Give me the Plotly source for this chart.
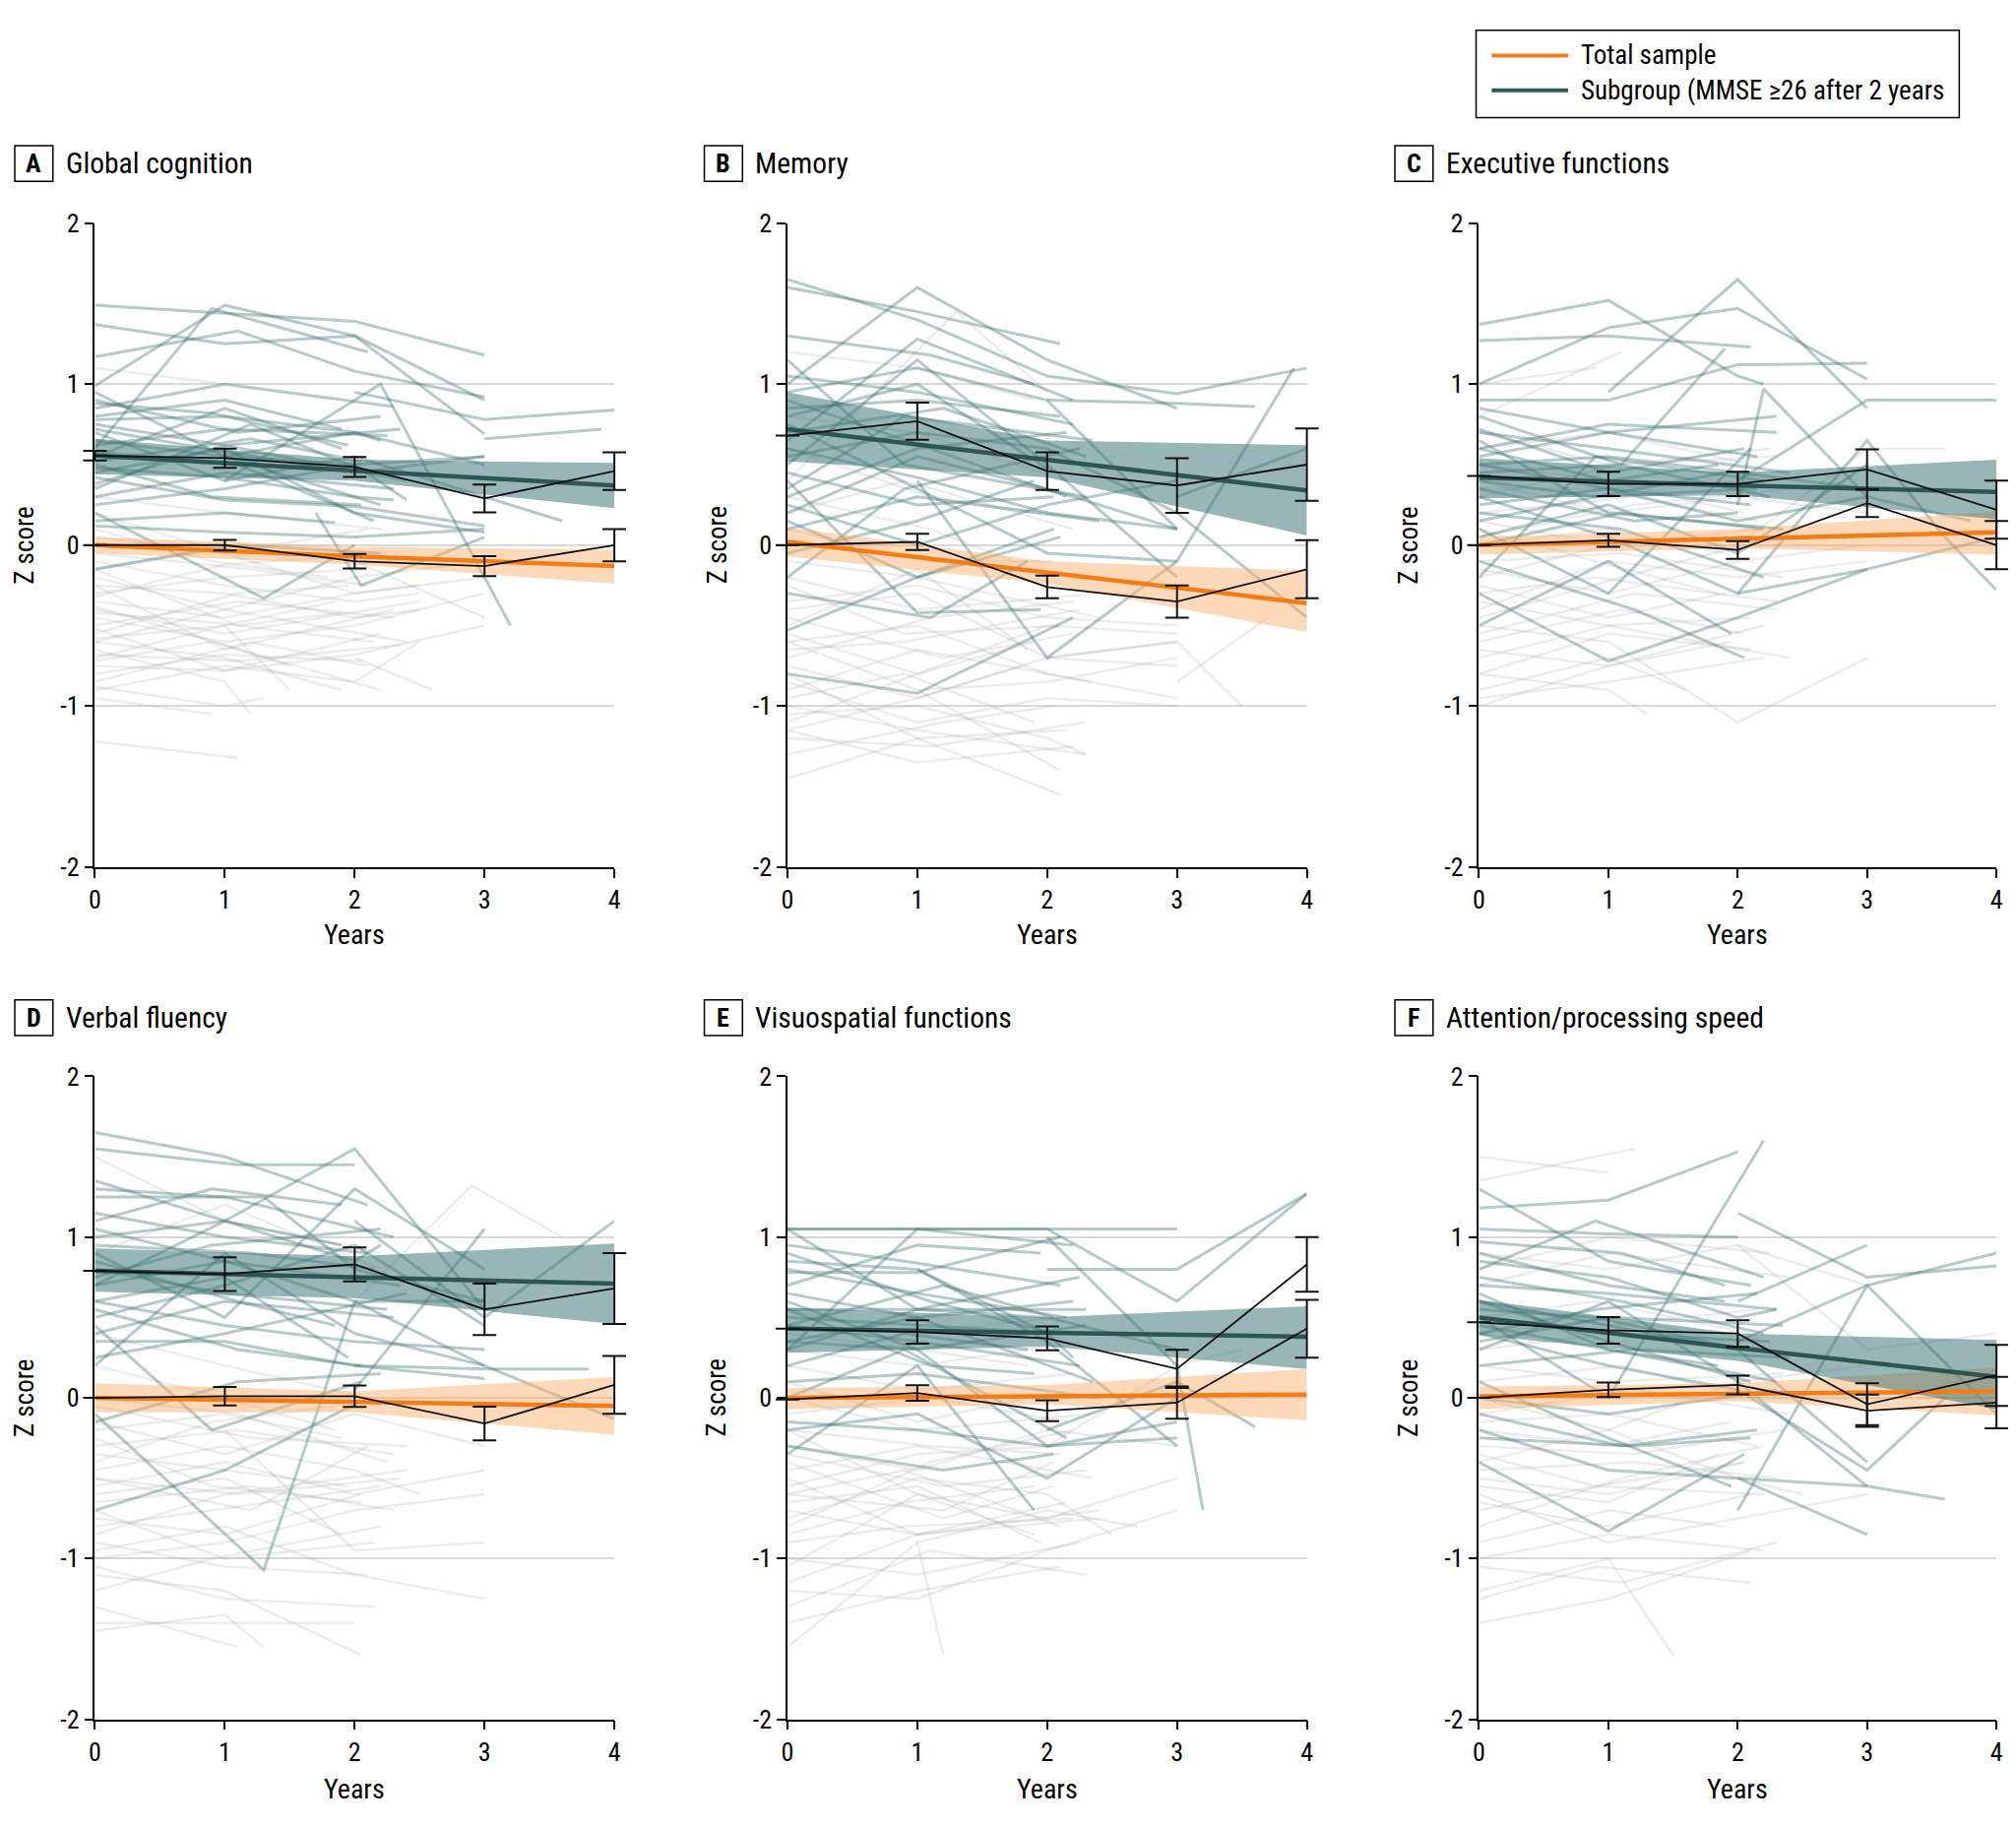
import plotly.graph_objects as go

W, H = 2048, 1855
FONT = "'Liberation Sans Narrow', 'Roboto Condensed', 'DejaVu Sans Condensed', 'Arial Narrow', sans-serif"

years = [0, 1, 2, 3, 4]
fit_x = [0, 2, 4]
panel_letters = ["A", "B", "C", "D", "E", "F"]
panel_titles = ["Global cognition", "Memory", "Executive functions",
                "Verbal fluency", "Visuospatial functions", "Attention/processing speed"]
y_tickvals = [-2, -1, 0, 1, 2]
y_ticktext = ["-2", "-1", "0", "1", "2"]
legend_labels = ["Total sample", "Subgroup (MMSE \u226526 after 2 years"]

# ---------------- observed means (black lines with error bars) ----------------
A_total_mean = [0.00, 0.00, -0.10, -0.13, 0.00]
A_total_err = [0.00, 0.033, 0.045, 0.062, 0.10]
A_sub_mean = [0.556, 0.54, 0.485, 0.29, 0.46]
A_sub_err = [0.03, 0.06, 0.062, 0.086, 0.117]

B_total_mean = [0.00, 0.02, -0.26, -0.35, -0.15]
B_total_err = [0.00, 0.05, 0.07, 0.10, 0.18]
B_sub_mean = [0.68, 0.77, 0.46, 0.37, 0.50]
B_sub_err = [0.00, 0.115, 0.117, 0.17, 0.225]

C_total_mean = [0.00, 0.03, -0.03, 0.26, 0.00]
C_total_err = [0.00, 0.04, 0.055, 0.085, 0.15]
C_sub_mean = [0.43, 0.38, 0.38, 0.47, 0.22]
C_sub_err = [0.00, 0.075, 0.075, 0.125, 0.18]

D_total_mean = [0.00, 0.01, 0.01, -0.16, 0.08]
D_total_err = [0.00, 0.057, 0.067, 0.105, 0.18]
D_sub_mean = [0.79, 0.77, 0.83, 0.55, 0.68]
D_sub_err = [0.00, 0.105, 0.105, 0.16, 0.22]

E_total_mean = [-0.01, 0.03, -0.08, -0.03, 0.43]
E_total_err = [0.00, 0.048, 0.065, 0.10, 0.18]
E_sub_mean = [0.43, 0.41, 0.37, 0.18, 0.83]
E_sub_err = [0.00, 0.073, 0.074, 0.118, 0.17]

F_total_mean = [0.00, 0.05, 0.08, -0.08, -0.03]
F_total_err = [0.00, 0.045, 0.058, 0.10, 0.16]
F_sub_mean = [0.47, 0.42, 0.40, -0.04, 0.14]
F_sub_err = [0.00, 0.083, 0.083, 0.13, 0.19]

# ---------------- model fits with confidence bands (at years 0, 2, 4) ----------------
A_total_fit = [0.00, -0.07, -0.13]
A_total_lo = [-0.05, -0.12, -0.24]
A_total_hi = [0.05, -0.01, -0.03]
A_sub_fit = [0.556, 0.46, 0.37]
A_sub_lo = [0.44, 0.40, 0.23]
A_sub_hi = [0.66, 0.53, 0.51]

B_total_fit = [0.02, -0.17, -0.36]
B_total_lo = [-0.07, -0.24, -0.54]
B_total_hi = [0.11, -0.10, -0.16]
B_sub_fit = [0.72, 0.53, 0.34]
B_sub_lo = [0.52, 0.42, 0.06]
B_sub_hi = [0.95, 0.65, 0.62]

C_total_fit = [0.00, 0.04, 0.08]
C_total_lo = [-0.06, -0.02, -0.06]
C_total_hi = [0.05, 0.10, 0.21]
C_sub_fit = [0.42, 0.37, 0.33]
C_sub_lo = [0.29, 0.31, 0.16]
C_sub_hi = [0.54, 0.45, 0.53]

D_total_fit = [0.00, -0.025, -0.05]
D_total_lo = [-0.09, -0.09, -0.23]
D_total_hi = [0.09, 0.04, 0.13]
D_sub_fit = [0.79, 0.75, 0.71]
D_sub_lo = [0.66, 0.62, 0.46]
D_sub_hi = [0.93, 0.88, 0.96]

E_total_fit = [0.00, 0.01, 0.02]
E_total_lo = [-0.07, -0.04, -0.14]
E_total_hi = [0.06, 0.08, 0.18]
E_sub_fit = [0.43, 0.405, 0.38]
E_sub_lo = [0.28, 0.32, 0.18]
E_sub_hi = [0.56, 0.50, 0.57]

F_total_fit = [0.01, 0.025, 0.04]
F_total_lo = [-0.07, -0.02, -0.11]
F_total_hi = [0.07, 0.09, 0.19]
F_sub_fit = [0.50, 0.31, 0.13]
F_sub_lo = [0.39, 0.23, -0.07]
F_sub_hi = [0.61, 0.40, 0.36]

# ---------------- individual trajectories (year, z score) ----------------
A_sub_lines = [
    [(0, 1.49), (2, 1.39), (3, 1.18)],
    [(0, 1.37), (1, 1.25), (2, 1.30), (3, 0.90)],
    [(0, 1.17), (1.1, 1.33), (2, 1.08), (3, 0.92)],
    [(0, 0.99), (1, 1.49), (2, 1.30), (3, 0.69)],
    [(0, 0.60), (0.9, 1.47), (2.1, 1.20)],
    [(0, 0.85), (1, 1.00), (2.3, 0.86)],
    [(2, 0.95), (3, 0.78), (4, 0.84)],
    [(1, 0.40), (2.2, 1.00), (3.2, -0.50)],
    [(3, 0.66), (3.9, 0.72)],
    [(0, 0.55), (1, 0.85), (1.9, 0.60)],
    [(0, 0.90), (1.1, 0.70), (2.2, 0.80)],
    [(0, 0.75), (1, 0.62), (2.4, 0.40)],
    [(0, 0.50), (0.9, 0.30), (2.05, 0.25)],
    [(0, 0.30), (1, 0.45), (2.3, 0.35)],
    [(0, 0.15), (1, 0.20), (1.85, 0.14)],
    [(0, -0.15), (1.1, 0.00), (2.2, -0.05)],
    [(0, 0.20), (1.3, -0.33), (2, 0.00)],
    [(1.7, 0.20), (2.05, -0.25), (3, 0.05)],
    [(0, 0.65), (1, 0.55), (2, 0.50), (3, 0.55)],
    [(0, 0.45), (1, 0.60), (2, 0.20), (3, 0.08)],
    [(0, 0.78), (1, 0.80), (2, 0.70), (2.2, 0.65)],
    [(0, 0.70), (1, 0.40), (2, 0.55), (3.6, 0.15)],
    [(0, 0.35), (1.2, 0.75), (2.1, 0.45)],
    [(0, 0.95), (1, 0.55), (2, 0.30), (2.2, 0.25)],
    [(0, 0.62), (1, 0.72), (2.25, 0.68)],
    [(0, 0.48), (1, 0.42), (2, 0.30), (2.3, 0.28)],
    [(0, 0.88), (0.9, 0.82), (1.95, 0.62)],
    [(0, 0.25), (1, 0.35), (2, 0.50), (2.4, 0.28)],
    [(0, 0.58), (1.1, 0.50), (2.15, 0.15)],
    [(0, 0.38), (1, 0.62), (2.35, 0.72)],
    [(0, 0.72), (1, 0.58), (2, 0.45), (3, 0.55)],
    [(0, 0.42), (1, 0.28), (2, 0.24), (3, 0.12)],
    [(0, 0.12), (1, 0.08), (2, 0.05), (3, 0.10)],
    [(0, 0.52), (1.2, 0.66), (2.05, 0.52)],
    [(1, 0.55), (2, 0.70), (3, 0.50)],
    [(0, 0.80), (1, 0.90), (1.9, 0.72)],
]
A_rest_lines = [
    [(0, -1.22), (1.1, -1.32)],
    [(0, -0.95), (0.9, -1.05)],
    [(0, -0.75), (1, -0.78), (2.2, -0.55)],
    [(0, -0.60), (1, -0.70), (1.9, -0.90)],
    [(0, -0.50), (1.1, -0.35), (2.3, -0.45)],
    [(0, -0.30), (1, -0.20), (2.05, -0.15)],
    [(0, -0.10), (1, -0.25), (2, -0.35), (2.5, -0.30)],
    [(0, -0.85), (1.2, -0.60), (2.1, -0.75)],
    [(0, -0.40), (1, -0.55), (2.5, -0.35)],
    [(0, 0.10), (0.9, -0.10), (1.8, -0.20)],
    [(0, -0.20), (1, -0.40), (2.4, -0.60)],
    [(0, -0.65), (1, -0.85), (1.2, -1.05)],
    [(0, -0.45), (1, -0.60), (2, -0.50), (3, -0.30)],
    [(0, -0.90), (1, -0.75), (2, -0.85), (2.5, -0.60)],
    [(0, 0.30), (1, 0.20), (2.2, 0.10)],
    [(0, -0.15), (1, 0.00), (2, -0.10), (3, -0.45)],
    [(0, -0.55), (1.1, -0.30), (1.95, -0.25)],
    [(0, -0.70), (1, -0.50), (1.5, -0.90)],
    [(0, -0.35), (1, -0.45), (2, -0.30), (3, -0.20)],
    [(2, -0.70), (2.6, -0.90)],
    [(0, 1.10), (1, 1.00)],
    [(0, -0.25), (1, -0.65), (2.3, -0.40)],
    [(0, -0.05), (1.2, -0.15), (2.1, -0.25)],
    [(0, -0.25), (1, -0.30), (2, -0.45), (2.5, -0.40)],
    [(0, -0.42), (0.9, -0.48), (2.15, -0.60)],
    [(0, -0.58), (1, -0.50), (1.85, -0.35)],
    [(0, -0.68), (1.1, -0.72), (2.35, -0.62)],
    [(0, -0.80), (1, -0.68), (2.05, -0.72)],
    [(0, -0.88), (1, -1.00), (1.3, -0.95)],
    [(0, -0.32), (1, -0.12), (2.25, -0.05)],
    [(0, -0.15), (1.1, -0.50), (1.9, -0.42)],
    [(0, 0.05), (1, -0.05), (2, -0.30), (2.5, -0.25)],
    [(0, -0.52), (1, -0.78), (2, -0.68), (3, -0.50)],
    [(0, -0.72), (0.9, -0.60), (2.2, -0.90)],
    [(0, -0.38), (1, -0.62), (1.5, -0.75)],
    [(0, 0.20), (1, -0.05), (2.1, 0.10)],
    [(0, -0.60), (1, -0.40), (2, -0.20), (3, -0.10)],
]

B_sub_lines = [
    [(0, 1.65), (1, 1.40), (2, 1.05), (3, 0.94), (4, 1.10)],
    [(0, 1.60), (1, 1.45), (2.1, 1.25)],
    [(0, 1.30), (1.1, 1.18), (1.9, 1.00)],
    [(0, 1.00), (1, 1.60), (2, 1.15), (3, 0.85)],
    [(0, 0.65), (1, 1.28), (2.2, 0.90)],
    [(0, 0.95), (1, 1.10), (2, 0.90), (3, 0.10)],
    [(0, 1.15), (0.9, 0.50), (2.3, 0.30)],
    [(0, 0.50), (1, 1.15), (2, 0.50), (3, -0.20)],
    [(0, 0.30), (1, 0.60), (2.15, 0.70)],
    [(0, -0.53), (1, -0.20), (2.05, 0.10)],
    [(0, -0.80), (1, -0.92), (2.2, -0.45)],
    [(0, -0.30), (1.1, -0.45), (1.85, -0.10)],
    [(1, 0.40), (2, -0.70), (3, -0.10), (3.9, 1.10)],
    [(2, 0.90), (3, 0.88), (3.6, 0.86)],
    [(0, 0.25), (1, 0.00), (2, 0.25), (3, 0.40)],
    [(0, 0.10), (1, 0.30), (2.4, 0.15)],
    [(0, 0.55), (1, 0.70), (2, 0.60), (3, 0.20), (4, -0.45)],
    [(3, 0.30), (4, 0.60)],
    [(0, 0.85), (1, 0.90), (2.1, 0.80)],
    [(0, -0.20), (0.9, 0.35), (2.25, 0.60)],
    [(0, 0.40), (1, -0.42), (1.95, -0.40)],
    [(0, 0.75), (1, 0.35), (2, -0.05), (3, -0.10)],
    [(0, 0.70), (1.2, 0.85), (2.3, 0.55)],
    [(0, 0.45), (1, 0.25), (2.05, 0.30)],
    [(0, 0.20), (1, 0.55), (2, 0.35), (3, 0.10)],
    [(0, 0.90), (1.1, 0.60), (2.15, 0.30)],
    [(0, -0.05), (1, 0.15), (1.9, 0.40)],
    [(0, 0.60), (1, 0.42), (2, 0.20), (3, 0.10)],
    [(0, 1.05), (1, 0.95), (2.2, 0.75)],
    [(0, 0.35), (0.9, 0.80), (2.35, 0.65)],
    [(0, 0.15), (1, -0.20), (2.1, 0.05)],
    [(0, 0.80), (1, 1.00), (2.05, 0.45)],
]
B_rest_lines = [
    [(0, -1.45), (1, -1.20), (2.1, -1.55)],
    [(0, -1.20), (1.1, -1.25), (2.3, -1.10)],
    [(0, -1.05), (1, -1.00), (2, -1.20), (2.3, -1.30)],
    [(0, -0.95), (0.9, -0.80), (1.9, -1.10)],
    [(0, -0.75), (1, -0.95), (2, -0.70), (3, -0.75)],
    [(0, -0.60), (1, -0.50), (2, -0.80), (3, -0.95)],
    [(0, -0.45), (1.2, -0.70), (2.2, -0.55)],
    [(0, -0.35), (1, -0.25), (2, -0.45), (3, -0.50)],
    [(0, -0.20), (1, -0.40), (2.4, -0.30)],
    [(0, 0.30), (1.1, 0.10), (2.05, -0.20)],
    [(0, 0.40), (1.3, 1.45), (2, 0.95)],
    [(0, -1.10), (1, -0.80), (2, -0.50), (3, -0.55)],
    [(1, -0.90), (2.1, -1.40)],
    [(0, -0.85), (1, -1.10), (2, -0.95), (3, -1.00)],
    [(2, -0.70), (3, -0.60), (3.5, -1.00)],
    [(0, -0.65), (0.9, -0.60), (2.25, -0.40)],
    [(0, -0.50), (1, -0.15), (1.85, -0.65)],
    [(0, 0.80), (1, 0.70), (2.15, 0.40)],
    [(0, 0.60), (1.1, 0.30), (1.95, 0.20)],
    [(3, -0.85), (3.7, -0.45)],
    [(0, -1.15), (1, -1.35), (2.2, -1.25)],
    [(0, -0.90), (1, -0.65), (2.35, -0.85)],
    [(0, -1.30), (1.2, -1.10), (2.05, -1.00)],
    [(0, -0.55), (1, -0.80), (1.9, -0.60)],
    [(0, -0.25), (0.9, -0.55), (2.1, -0.50)],
    [(0, -1.00), (1, -1.15), (2.3, -1.30)],
    [(0, -0.70), (1.1, -0.45), (2.2, -0.35)],
    [(0, -0.40), (1, -0.30), (2, -0.70), (3, -0.60)],
    [(0, -1.15), (1, -0.95), (1.8, -0.75)],
    [(0, -0.10), (1, -0.20), (2.4, -0.45)],
    [(0, 0.10), (1.1, -0.10), (2.05, -0.10)],
    [(0, -0.80), (1, -1.20), (2.15, -1.15)],
    [(0, -0.60), (1, -0.90), (2, -0.85), (3, -0.70)],
    [(0, 0.20), (0.9, 0.40), (2.2, 0.10)],
    [(0, 1.20), (1, 1.10), (1.9, 0.90)],
]

C_sub_lines = [
    [(0, 1.37), (1, 1.52), (2, 1.05), (2.2, 1.00)],
    [(0, 1.27), (1, 1.30), (2.1, 1.23)],
    [(0, 1.00), (1, 1.35), (2, 1.47), (3, 1.03)],
    [(0, 0.90), (1, 0.90), (2, 1.12), (3, 1.13)],
    [(1, 0.95), (2, 1.65), (3, 0.85)],
    [(0, 0.80), (1.1, 0.50), (1.9, 1.22)],
    [(2, 0.25), (2.2, 0.97), (3, 0.30), (3.8, 0.15)],
    [(2, 0.40), (3, 0.90), (4, 0.90)],
    [(0, 0.60), (1, 0.75), (2.3, 0.70)],
    [(0, 0.40), (0.9, 0.30), (2.15, 0.35)],
    [(0, 0.72), (1, 0.45), (2.05, 0.60)],
    [(0, 0.20), (1.1, 0.10), (2.2, -0.20)],
    [(0, -0.50), (1, -0.10), (1.95, -0.55)],
    [(0, -0.30), (1, -0.72), (2, -0.45), (3, -0.15)],
    [(0, 0.10), (1, -0.30), (2.1, 0.60)],
    [(2, -0.30), (3, 0.65), (3.6, 0.05), (4, -0.28)],
    [(0, 0.05), (1, 0.25), (2, -0.05), (3, 0.50)],
    [(0, 0.50), (1, 0.55), (2, 0.45), (3, 0.35)],
    [(0, -0.10), (1.2, -0.40), (2.05, -0.70)],
    [(0, 0.30), (1, 0.05), (2, -0.30), (3, -0.15), (4, 0.05)],
    [(0, 0.65), (1, 0.20), (2.35, 0.10)],
    [(0, -0.20), (0.9, 0.55), (2.2, 0.40)],
    [(0, 0.60), (1, 0.40), (1.85, 0.50)],
    [(0, 0.45), (1.1, 0.50), (2.25, 0.30)],
    [(0, 0.25), (1, 0.35), (2.1, 0.25)],
    [(0, 0.70), (1, 0.60), (2.4, 0.45)],
    [(0, 0.35), (1.2, 0.15), (2.0, 0.20)],
    [(0, 0.55), (1, 0.70), (2.15, 0.55)],
    [(0, 0.15), (0.9, 0.30), (1.9, 0.45)],
    [(0, 0.85), (1, 0.70), (2.3, 0.80)],
    [(0, 0.00), (1.1, 0.20), (2.2, 0.10)],
    [(0, 0.50), (1, 0.35), (2, 0.15), (3, 0.30)],
]
C_rest_lines = [
    [(0, -1.00), (1, -0.75), (2.2, -0.50)],
    [(0, -0.80), (1, -0.90), (1.3, -1.05)],
    [(0, -0.60), (1.1, -0.40), (2.05, -0.55)],
    [(0, -0.50), (1, -0.60), (2, -1.10), (3, -0.70)],
    [(0, -0.30), (0.9, -0.20), (2.3, -0.35)],
    [(0, -0.15), (1, -0.30), (2, -0.10), (3, 0.00)],
    [(0, 0.00), (1, 0.10), (1.9, -0.05)],
    [(0, 0.20), (1.2, 0.30), (2.15, 0.15)],
    [(0, 0.40), (1, 0.20), (2, 0.30), (3, 0.20)],
    [(0, 0.60), (1, 0.70), (2.1, 0.50)],
    [(0, 0.80), (1.1, 1.20)],
    [(0, 1.00), (0.9, 1.10)],
    [(0, -0.70), (1, -0.50), (2.4, -0.70)],
    [(0, -0.40), (1, -0.10), (2, -0.20), (3, -0.10)],
    [(0, 0.30), (1.1, 0.50), (2.25, 0.60)],
    [(2, 0.00), (3, 0.60), (3.6, 0.60)],
    [(0, -0.90), (1, -0.70), (1.6, -0.90)],
    [(0, -0.20), (1, 0.00), (2.2, 0.10)],
    [(0, 0.10), (0.9, -0.10), (1.85, -0.30)],
    [(0, 0.50), (1, 0.40), (2.05, 0.20)],
    [(0, -0.55), (1.2, -0.30), (2.3, -0.40)],
    [(0, -0.35), (1, -0.50), (2.1, -0.45)],
    [(0, -0.65), (1, -0.75), (1.95, -0.60)],
    [(0, -0.10), (1.1, -0.05), (2.35, -0.20)],
    [(0, 0.15), (1, 0.00), (2.15, 0.05)],
    [(0, 0.35), (0.9, 0.35), (2.2, 0.40)],
    [(0, -0.25), (1, -0.45), (1.9, -0.30)],
    [(0, -0.45), (1.1, -0.20), (2.05, 0.00)],
    [(0, 0.70), (1, 0.50), (2.3, 0.55)],
    [(0, -0.80), (1, -0.55), (2.1, -0.65)],
    [(0, 0.05), (1.2, 0.25), (2.4, 0.35)],
    [(0, -0.95), (1, -0.85), (2.2, -0.70)],
]

D_sub_lines = [
    [(0, 1.65), (1, 1.50), (2.1, 1.20)],
    [(0, 1.55), (1.1, 1.45), (2, 1.45)],
    [(0, 1.30), (1, 1.25), (2.3, 1.00)],
    [(0, 1.10), (0.9, 1.30), (1.9, 1.20)],
    [(0, 1.00), (1, 1.10), (2, 1.55), (3, 0.55)],
    [(0, 0.90), (1, 0.50), (2, 1.30), (3, 0.80)],
    [(0, 1.25), (1.3, 1.25), (2, 0.80), (3, 0.60)],
    [(0, 0.50), (1, 0.70), (2, 0.95), (3, 0.45)],
    [(0, 0.35), (1, 0.35), (2, 0.20), (3, 0.12)],
    [(0, -0.70), (1, -0.45), (2.1, 0.00)],
    [(0, -0.10), (1.3, -1.07), (2, 0.60)],
    [(0, 0.20), (1, 0.90), (2, 0.40), (3, 0.20)],
    [(0, -0.15), (1.1, 0.10), (2.2, 0.15)],
    [(0, 0.60), (1, 0.75), (1.95, 0.25)],
    [(2, 0.05), (3, 1.05)],
    [(2, 0.20), (3, 0.18), (3.8, 0.18)],
    [(2, 1.10), (3, 0.50), (4, 1.10)],
    [(2, 0.60), (3, 0.20), (4, -0.13)],
    [(0, 0.80), (1, 0.65), (2.25, 0.55)],
    [(0, 0.45), (0.9, -0.20), (2.05, 0.10)],
    [(0, 1.05), (1, 0.85), (2, 0.60), (3, 0.60)],
    [(0, 0.70), (1, 1.10), (2, 0.85), (2.2, 0.95)],
    [(0, 0.95), (1.2, 0.90), (2.15, 0.80)],
    [(0, 0.70), (1, 0.85), (2.35, 0.70)],
    [(0, 0.85), (1.1, 0.60), (1.85, 0.45)],
    [(0, 1.15), (1, 1.00), (2.1, 0.90)],
    [(0, 0.60), (1, 0.45), (2, 0.35), (3, 0.30)],
    [(0, 0.75), (0.9, 0.95), (2.2, 1.05)],
    [(0, 0.40), (1, 0.60), (2.3, 0.50)],
    [(0, 0.55), (1.1, 0.30), (2.05, 0.20)],
    [(0, 1.35), (1, 1.10), (1.9, 0.95)],
    [(0, 0.25), (1, 0.40), (2.4, 0.65)],
]
D_rest_lines = [
    [(0, -1.40), (1, -1.40), (2, -1.40)],
    [(0, -1.30), (1.1, -1.55)],
    [(0, -1.10), (1, -1.20), (2.05, -1.60)],
    [(0, -0.95), (1, -0.80), (2, -1.10), (3, -1.25)],
    [(0, -0.80), (0.9, -0.70), (2.2, -0.55)],
    [(0, -0.60), (1, -0.50), (1.9, -0.85)],
    [(0, -0.45), (1, -0.30), (2, -0.45), (2.5, -0.60)],
    [(0, -0.30), (1.1, -0.20), (2.3, -0.35)],
    [(0, -0.15), (1, -0.35), (2, -0.10), (3, -0.30)],
    [(0, -0.70), (1, -1.00), (2.15, -0.90)],
    [(0, -0.50), (1.2, -0.70), (2.1, -0.30)],
    [(0, 0.20), (1, 0.00), (1.85, -0.20)],
    [(2, 0.60), (2.9, 1.32), (3.6, 1.00)],
    [(0, 1.50), (1, 1.10), (2.2, 0.90)],
    [(0, -1.00), (1, -0.90), (2, -0.70), (3, -0.60)],
    [(0, -0.25), (0.9, -0.55), (2.05, -0.65)],
    [(0, -0.85), (1, -0.60), (2.4, -0.45)],
    [(1, -0.20), (2, -0.95), (3, -0.90)],
    [(0, 0.00), (1.1, -0.10), (2.25, -0.40)],
    [(0, -0.55), (1, -0.40), (2, -0.60), (3, -0.45)],
    [(0, -0.35), (1, -0.45), (1.95, -0.55)],
    [(0, -0.65), (1.2, -0.55), (2.3, -0.70)],
    [(0, -0.90), (1, -1.05), (2.1, -1.10)],
    [(0, -1.20), (0.9, -1.00), (2.2, -0.80)],
    [(0, -0.20), (1, -0.10), (1.9, -0.25)],
    [(0, -0.50), (1.1, -0.60), (2.35, -0.50)],
    [(0, -0.75), (1, -0.85), (2.05, -0.60)],
    [(0, -1.05), (1, -1.25), (2.15, -1.30)],
    [(0, -0.05), (1.2, -0.25), (2.4, -0.30)],
    [(0, 0.40), (1, 0.20), (2.1, 0.00)],
    [(0, -0.40), (0.9, -0.15), (1.85, -0.05)],
    [(0, 0.90), (1, 1.20), (2.2, 0.80)],
    [(0, -1.45), (1, -1.35), (1.3, -1.55)],
]

E_sub_lines = [
    [(0, 1.05), (1, 1.05), (2, 1.05)],
    [(0, 1.05), (1.5, 1.05), (3, 1.05)],
    [(2, 0.80), (3, 0.80), (4, 1.27)],
    [(0, 0.78), (1, 0.78), (2.1, 1.00)],
    [(0, 1.05), (1, 0.55), (2, 0.50), (3, 0.30)],
    [(0, 0.55), (1.1, 0.55), (2.3, 0.55)],
    [(1, 0.80), (2, 0.35), (3, -0.30)],
    [(2, 1.05), (3, 0.60), (4, 1.27)],
    [(2, 1.00), (3, 0.20), (3.2, -0.70)],
    [(0, 0.30), (1, 1.05), (2.2, 0.95)],
    [(0, -0.30), (1.2, -0.45), (2.05, -0.35)],
    [(0, -0.20), (1, -0.10), (2, -0.50), (3, 0.00)],
    [(0, -0.35), (1, 0.20), (1.9, -0.70)],
    [(0, 0.00), (0.9, 0.30), (2.15, -0.25)],
    [(0, 0.45), (1, 0.35), (2.25, 0.20)],
    [(0, 0.60), (1, 0.30), (2, -0.30), (3, -0.15)],
    [(2, -0.20), (3, 0.10), (3.6, -0.18)],
    [(0, 0.90), (1.1, 0.60), (2.05, 0.40)],
    [(0, 0.35), (1, 0.50), (2.35, 0.10)],
    [(0, 0.70), (1, 0.95), (1.95, 0.90)],
    [(0, -0.15), (1, -0.20), (2, -0.30), (3, -0.25)],
    [(0, 0.85), (1, 0.80), (2, 0.40), (2.2, 0.25)],
    [(0, 0.50), (1.1, 0.45), (2.1, 0.40)],
    [(0, 0.35), (1, 0.30), (2.3, 0.45)],
    [(0, 0.20), (0.9, 0.40), (1.85, 0.30)],
    [(0, 0.65), (1, 0.50), (2.2, 0.60)],
    [(0, 0.45), (1.2, 0.70), (2.05, 0.50)],
    [(0, 0.10), (1, 0.15), (2.4, 0.00)],
    [(0, 0.80), (1, 0.65), (2.15, 0.50)],
    [(0, 0.55), (1.1, 0.20), (1.9, 0.15)],
    [(0, 0.30), (1, 0.55), (2.25, 0.75)],
    [(0, 0.95), (0.9, 0.85), (2.1, 0.70)],
]
E_rest_lines = [
    [(0, -1.55), (1, -0.90), (1.2, -1.60)],
    [(0, -1.40), (1, -1.20), (2.1, -1.05)],
    [(0, -1.30), (1.1, -0.95), (2.3, -1.10)],
    [(0, -1.20), (1, -1.25), (2, -0.95), (3, -0.70)],
    [(0, -1.05), (1, -0.60), (1.9, -0.85)],
    [(0, -0.90), (0.9, -0.80), (2.2, -0.75)],
    [(0, -0.75), (1, -0.50), (2, -0.60), (2.5, -0.85)],
    [(0, -0.60), (1.2, -0.70), (2.05, -0.40)],
    [(0, -0.45), (1, -0.30), (2.35, -0.50)],
    [(0, -0.30), (1, -0.45), (2, -0.20), (3, -0.30)],
    [(0, -0.10), (1.1, 0.00), (2.15, -0.15)],
    [(0, 0.10), (1, -0.15), (1.85, 0.00)],
    [(0, 0.30), (1, 0.20), (2.25, 0.35)],
    [(0, 0.55), (0.9, 0.40), (2.1, 0.50)],
    [(0, -0.50), (1, -0.85), (2.4, -0.70)],
    [(0, -0.20), (1, -0.60), (2, -0.75), (3, -0.50)],
    [(2, -0.30), (3, 0.20), (3.5, 0.30)],
    [(0, -0.80), (1.1, -0.40), (2.2, -0.20)],
    [(1, -0.90), (2, -0.70), (2.7, -0.80)],
    [(0, -0.65), (1, -0.55), (1.95, -0.90)],
    [(0, -0.35), (1.2, -0.55), (2.3, -0.45)],
    [(0, -0.55), (1, -0.35), (2.05, -0.30)],
    [(0, -0.70), (1, -0.85), (2.15, -0.65)],
    [(0, -0.85), (0.9, -0.65), (1.9, -0.55)],
    [(0, -1.00), (1, -1.10), (2.25, -0.90)],
    [(0, -0.20), (1.1, -0.30), (2.1, -0.35)],
    [(0, 0.00), (1, -0.20), (2.35, -0.10)],
    [(0, 0.20), (1, 0.05), (2.2, 0.15)],
    [(0, -0.40), (1.2, -0.75), (2.05, -0.55)],
    [(0, -1.15), (1, -0.85), (2.4, -0.75)],
    [(0, -0.60), (0.9, -0.45), (2.1, -0.80)],
    [(0, 0.40), (1, 0.30), (1.85, 0.20)],
]

F_sub_lines = [
    [(0, 1.18), (1, 1.23), (2, 1.53)],
    [(0, 1.30), (1, 0.85), (2.1, 0.70)],
    [(0, 0.50), (1, 0.00), (2.2, 1.60)],
    [(0, 1.05), (1, 1.02), (2, 1.00)],
    [(0, 0.97), (1.1, 0.90), (1.9, 0.70)],
    [(2, 1.15), (3, 0.75), (4, 0.82)],
    [(2, 0.60), (3, 0.95)],
    [(2, 0.35), (3, 0.70), (4, -0.10)],
    [(0, 0.80), (0.9, 1.10), (2.2, 0.75)],
    [(0, 0.70), (1, 0.65), (2.3, 0.55)],
    [(0, 0.60), (1, 0.45), (2, 0.30), (3, -0.40)],
    [(0, 0.30), (1, 0.60), (2, 0.10), (3, -0.55)],
    [(0, -0.40), (1, -0.83), (2.05, -0.35)],
    [(0, -0.10), (1.1, -0.30), (2.15, -0.20)],
    [(0, 0.10), (1, -0.25), (1.95, -0.55)],
    [(2, -0.70), (3, 0.70), (4, 0.90)],
    [(2, -0.50), (3, -0.55), (3.6, -0.63)],
    [(0, -0.20), (1, -0.45), (2, -0.50), (3, -0.85)],
    [(0, 0.40), (1, 0.20), (2, 0.05), (3, -0.45), (3.6, 0.00)],
    [(0, 0.85), (1, 0.75), (2, 0.50), (2.3, 0.55)],
    [(0, 0.65), (1, 0.30), (2, 0.15), (2.3, 0.10)],
    [(0, -0.25), (1.2, -0.30), (2.1, -0.25)],
    [(0, 0.50), (1, 0.40), (2.25, 0.35)],
    [(0, 0.55), (0.9, 0.50), (2.05, 0.30)],
    [(0, 0.45), (1, 0.30), (1.85, 0.20)],
    [(0, 0.75), (1.1, 0.60), (2.2, 0.40)],
    [(0, 0.35), (1, 0.50), (2.35, 0.45)],
    [(0, 0.60), (1, 0.35), (2.1, 0.10)],
    [(0, 0.20), (1.2, 0.30), (2.4, 0.25)],
    [(0, 0.90), (1, 0.70), (1.9, 0.60)],
    [(0, 0.40), (0.9, 0.55), (2.15, 0.65)],
    [(0, 0.00), (1, -0.10), (2.3, 0.05)],
]
F_rest_lines = [
    [(0, 1.50), (1, 1.40)],
    [(0, 1.35), (1.2, 1.55)],
    [(0, -1.40), (1, -1.25), (2.1, -0.95)],
    [(0, -1.20), (1, -1.00), (1.5, -1.60)],
    [(0, -1.05), (1.1, -1.15), (2.3, -0.90)],
    [(0, -0.90), (1, -0.70), (1.9, -0.80)],
    [(0, -0.70), (0.9, -0.55), (2.2, -0.60)],
    [(0, -0.50), (1, -0.60), (2.05, -0.40)],
    [(0, -0.30), (1.2, -0.35), (2.35, -0.20)],
    [(0, -0.15), (1, -0.10), (2.15, -0.30)],
    [(0, 0.10), (1.1, 0.20), (1.85, 0.05)],
    [(0, 0.30), (1, 0.40), (2.25, 0.30)],
    [(0, 0.50), (0.9, 0.60), (2.1, 0.40)],
    [(0, 0.70), (1, 0.90), (2.4, 0.75)],
    [(0, 0.90), (1, 0.80), (2, 0.95), (3, 0.70)],
    [(0, -0.60), (1, -0.90), (2, -0.75), (3, -0.60)],
    [(2, 0.95), (3, 0.30), (4, 0.40)],
    [(0, -0.40), (1, -0.20), (2, -0.50), (2.5, -0.60)],
    [(0, 0.00), (1, -0.20), (2, 0.10), (3, 0.20)],
    [(0, -0.80), (1.1, -0.50), (2.2, -0.30)],
    [(0, -0.20), (1, -0.30), (1.95, -0.15)],
    [(0, -0.45), (1.2, -0.40), (2.3, -0.50)],
    [(0, -0.65), (1, -0.80), (2.1, -0.60)],
    [(0, -0.35), (0.9, -0.55), (2.05, -0.40)],
    [(0, 0.20), (1, 0.10), (2.35, 0.15)],
    [(0, 0.40), (1.1, 0.50), (1.9, 0.35)],
    [(0, -1.00), (1, -0.85), (2.2, -0.95)],
    [(0, 0.60), (1, 0.45), (2.15, 0.55)],
    [(0, -0.10), (1.2, 0.05), (2.4, -0.10)],
    [(0, -0.55), (1, -0.65), (1.85, -0.35)],
    [(0, -1.25), (0.9, -1.05), (2.1, -1.15)],
    [(0, 0.80), (1, 1.00), (2.25, 0.90)],
]

panels = [
    (A_sub_lines, A_rest_lines, A_total_mean, A_total_err, A_sub_mean, A_sub_err,
     A_total_fit, A_total_lo, A_total_hi, A_sub_fit, A_sub_lo, A_sub_hi),
    (B_sub_lines, B_rest_lines, B_total_mean, B_total_err, B_sub_mean, B_sub_err,
     B_total_fit, B_total_lo, B_total_hi, B_sub_fit, B_sub_lo, B_sub_hi),
    (C_sub_lines, C_rest_lines, C_total_mean, C_total_err, C_sub_mean, C_sub_err,
     C_total_fit, C_total_lo, C_total_hi, C_sub_fit, C_sub_lo, C_sub_hi),
    (D_sub_lines, D_rest_lines, D_total_mean, D_total_err, D_sub_mean, D_sub_err,
     D_total_fit, D_total_lo, D_total_hi, D_sub_fit, D_sub_lo, D_sub_hi),
    (E_sub_lines, E_rest_lines, E_total_mean, E_total_err, E_sub_mean, E_sub_err,
     E_total_fit, E_total_lo, E_total_hi, E_sub_fit, E_sub_lo, E_sub_hi),
    (F_sub_lines, F_rest_lines, F_total_mean, F_total_err, F_sub_mean, F_sub_err,
     F_total_fit, F_total_lo, F_total_hi, F_sub_fit, F_sub_lo, F_sub_hi),
]

# ---------------- styling ----------------
ORANGE = "#f47c14"
ORANGE_BAND = "rgba(253,170,100,0.45)"
TEAL = "#2c5553"
TEAL_BAND = "rgba(55,115,113,0.52)"
TEAL_SPAG = "rgba(72,122,120,0.40)"
GRAY_SPAG = "rgba(170,170,170,0.22)"
BLACK = "#111111"

def px(x):
    return x / W

def py(y):
    return 1 - y / H

# plot area pixel boxes: (left, right) for columns, (top, bottom) for rows
col_px = [(83, 614), (791, 1322), (1498, 2027)]
row_px = [(207, 872), (1088, 1752)]
label_box_x = [1, 706, 1412]
label_box_y = [(127, 164), (1009, 1046)]
years_label_y = [942, 1824]
EXT = 20  # extra pixels for the unclipped error-bar overlay

fig = go.Figure()
layout_axes = {}
annotations = []
shapes = []

for i, (sub_lines, rest_lines, t_mean, t_err, s_mean, s_err,
        t_fit, t_lo, t_hi, s_fit, s_lo, s_hi) in enumerate(panels):
    r, c = divmod(i, 3)
    n = "" if i == 0 else str(i + 1)
    xa, ya = "x" + n, "y" + n
    on = str(i + 7)
    oxa, oya = "x" + on, "y" + on

    for line in rest_lines:
        fig.add_trace(go.Scatter(x=[p[0] for p in line], y=[p[1] for p in line],
                                 mode="lines", line=dict(color=GRAY_SPAG, width=2.5),
                                 hoverinfo="skip", showlegend=False, xaxis=xa, yaxis=ya))
    for line in sub_lines:
        fig.add_trace(go.Scatter(x=[p[0] for p in line], y=[p[1] for p in line],
                                 mode="lines", line=dict(color=TEAL_SPAG, width=3),
                                 hoverinfo="skip", showlegend=False, xaxis=xa, yaxis=ya))
    # confidence bands
    fig.add_trace(go.Scatter(x=fit_x + fit_x[::-1], y=t_hi + t_lo[::-1], fill="toself",
                             fillcolor=ORANGE_BAND, line=dict(width=0), mode="lines",
                             hoverinfo="skip", showlegend=False, xaxis=xa, yaxis=ya))
    fig.add_trace(go.Scatter(x=fit_x + fit_x[::-1], y=s_hi + s_lo[::-1], fill="toself",
                             fillcolor=TEAL_BAND, line=dict(width=0), mode="lines",
                             hoverinfo="skip", showlegend=False, xaxis=xa, yaxis=ya))
    # fitted lines
    fig.add_trace(go.Scatter(x=fit_x, y=t_fit, mode="lines", line=dict(color=ORANGE, width=4.5),
                             showlegend=False, xaxis=xa, yaxis=ya))
    fig.add_trace(go.Scatter(x=fit_x, y=s_fit, mode="lines", line=dict(color=TEAL, width=4.5),
                             showlegend=False, xaxis=xa, yaxis=ya))
    # observed means with error bars (on a slightly wider invisible overlay so caps are not clipped)
    for mean, err in ((t_mean, t_err), (s_mean, s_err)):
        fig.add_trace(go.Scatter(x=years, y=mean, mode="lines", line=dict(color=BLACK, width=1.8),
                                 error_y=dict(type="data", array=err, color=BLACK, thickness=2, width=12),
                                 cliponaxis=False, showlegend=False, xaxis=oxa, yaxis=oya))

    x0, x1 = col_px[c]
    y0, y1 = row_px[r]
    layout_axes["xaxis" + n] = dict(
        domain=[px(x0), px(x1)], range=[0, 4], anchor=ya, tickvals=years,
        showline=True, linecolor="black", linewidth=1.5, ticks="outside", ticklen=9,
        tickwidth=1.5, tickcolor="black", showgrid=False, zeroline=False,
        tickfont=dict(size=26, color="black", family=FONT), fixedrange=True)
    layout_axes["yaxis" + n] = dict(
        domain=[py(y1), py(y0)], range=[-2, 2], anchor=xa, tickvals=y_tickvals,
        ticktext=y_ticktext, showline=True, linecolor="black", linewidth=1.5,
        ticks="outside", ticklen=9, tickwidth=1.5, tickcolor="black",
        showgrid=True, gridcolor="#d8d8d8", gridwidth=2, zeroline=False,
        tickfont=dict(size=26, color="black", family=FONT), fixedrange=True)
    ext_units = EXT * 4.0 / (x1 - x0)
    layout_axes["xaxis" + on] = dict(
        domain=[px(x0 - EXT), px(x1 + EXT)], range=[-ext_units, 4 + ext_units],
        anchor=oya, visible=False, fixedrange=True)
    layout_axes["yaxis" + on] = dict(
        domain=[py(y1), py(y0)], range=[-2, 2], anchor=oxa, visible=False, fixedrange=True)

    # panel label box and title
    bx = label_box_x[c]
    by0, by1 = label_box_y[r]
    shapes.append(dict(type="rect", xref="paper", yref="paper",
                       x0=px(bx), x1=px(bx + 39), y0=py(by1), y1=py(by0),
                       line=dict(color="black", width=1.5)))
    annotations.append(dict(text="<b>" + panel_letters[i] + "</b>", xref="paper", yref="paper",
                            x=px(bx + 19.5), y=py((by0 + by1) / 2), showarrow=False,
                            xanchor="center", yanchor="middle",
                            font=dict(size=26, color="black", family=FONT)))
    annotations.append(dict(text=panel_titles[i], xref="paper", yref="paper",
                            x=px(bx + 50), y=py((by0 + by1) / 2), showarrow=False,
                            xanchor="left", yanchor="middle",
                            font=dict(size=29.5, color="black", family=FONT)))
    # axis titles
    annotations.append(dict(text="Years", xref="paper", yref="paper",
                            x=px((x0 + x1) / 2), y=py(years_label_y[r]), showarrow=False,
                            xanchor="center", yanchor="middle",
                            font=dict(size=28, color="black", family=FONT)))
    annotations.append(dict(text="Z score", xref="paper", yref="paper",
                            x=px(x0 - 72), y=py((y0 + y1) / 2), showarrow=False,
                            textangle=-90, xanchor="center", yanchor="middle",
                            font=dict(size=27, color="black", family=FONT)))

# legend (drawn manually)
shapes.append(dict(type="rect", xref="paper", yref="paper",
                   x0=px(1495), x1=px(1989), y0=py(98), y1=py(8),
                   line=dict(color="black", width=1.5)))
for k, (col, ly) in enumerate(((ORANGE, 34), (TEAL, 70))):
    shapes.append(dict(type="line", xref="paper", yref="paper",
                       x0=px(1511), x1=px(1589), y0=py(ly), y1=py(ly),
                       line=dict(color=col, width=4)))
    annotations.append(dict(text=legend_labels[k], xref="paper", yref="paper",
                            x=px(1600), y=py(ly), showarrow=False,
                            xanchor="left", yanchor="middle",
                            font=dict(size=27, color="black", family=FONT)))

fig.update_layout(
    width=W, height=H, margin=dict(l=0, r=0, t=0, b=0),
    paper_bgcolor="white", plot_bgcolor="rgba(0,0,0,0)",
    font=dict(family=FONT, color="black"),
    showlegend=False, annotations=annotations, shapes=shapes,
    **layout_axes)

fig.write_html("out.html")
